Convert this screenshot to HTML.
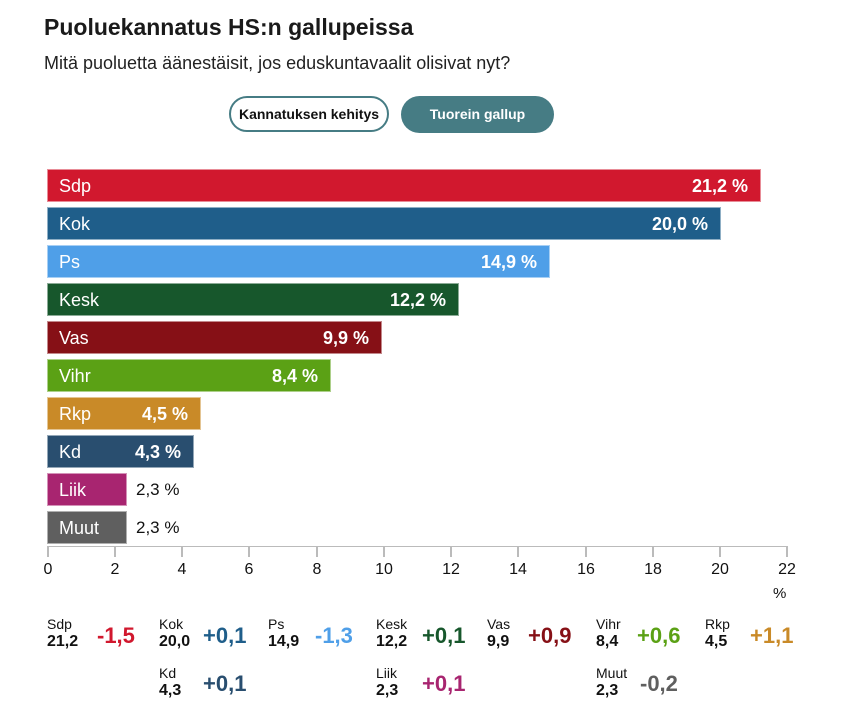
<!DOCTYPE html>
<html><head><meta charset="utf-8"><style>
body{margin:0;width:851px;height:712px;background:#fff;font-family:"Liberation Sans",sans-serif;position:relative;overflow:hidden;color:#111}
.a{position:absolute;white-space:nowrap}
.bar{position:absolute;left:47px;height:33px;color:#fff;font-size:18px;line-height:33px;box-sizing:border-box;border:1px solid rgba(255,255,255,.5)}
.bar .n{position:absolute;left:11px}
.bar .v{position:absolute;right:12px;font-weight:bold}
.out{position:absolute;font-size:17px;line-height:33px;color:#111}
.tk{position:absolute;top:547px;width:2px;height:10px;background:#bbb}
.tl{position:absolute;top:561px;font-size:16px;width:40px;text-align:center;color:#111}
.ln{position:absolute;font-size:14px;line-height:16px}
.lv{position:absolute;font-size:16px;font-weight:bold;line-height:18px}
.ld{position:absolute;font-size:22px;font-weight:bold;line-height:24px}
</style></head><body>
<div class="a" style="left:44px;top:14px;font-size:23px;font-weight:bold;color:#1a1a1a">Puoluekannatus HS:n gallupeissa</div>
<div class="a" style="left:44px;top:53px;font-size:18px;color:#222">Mitä puoluetta äänestäisit, jos eduskuntavaalit olisivat nyt?</div>
<div class="a" style="left:229px;top:96px;width:160px;height:36px;box-sizing:border-box;border:2px solid #467c84;border-radius:18px;text-align:center;line-height:32px;font-size:14px;font-weight:bold;color:#111">Kannatuksen kehitys</div>
<div class="a" style="left:401px;top:96px;width:153px;height:37px;background:#467c84;border-radius:19px;text-align:center;line-height:37px;font-size:14px;font-weight:bold;color:#fff">Tuorein gallup</div>

<div class="bar" style="top:169px;width:714px;background:#d1182e"><span class="n">Sdp</span><span class="v">21,2 %</span></div>
<div class="bar" style="top:207px;width:674px;background:#1f5e8a"><span class="n">Kok</span><span class="v">20,0 %</span></div>
<div class="bar" style="top:245px;width:503px;background:#4f9fe8"><span class="n">Ps</span><span class="v">14,9 %</span></div>
<div class="bar" style="top:283px;width:412px;background:#17572c"><span class="n">Kesk</span><span class="v">12,2 %</span></div>
<div class="bar" style="top:321px;width:335px;background:#861016"><span class="n">Vas</span><span class="v">9,9 %</span></div>
<div class="bar" style="top:359px;width:284px;background:#5ba115"><span class="n">Vihr</span><span class="v">8,4 %</span></div>
<div class="bar" style="top:397px;width:154px;background:#c98a28"><span class="n">Rkp</span><span class="v">4,5 %</span></div>
<div class="bar" style="top:435px;width:147px;background:#294e6f"><span class="n">Kd</span><span class="v">4,3 %</span></div>
<div class="bar" style="top:473px;width:80px;background:#a82570"><span class="n">Liik</span></div>
<div class="out" style="left:136px;top:473px">2,3 %</div>
<div class="bar" style="top:511px;width:80px;background:#5f5f5f"><span class="n">Muut</span></div>
<div class="out" style="left:136px;top:511px">2,3 %</div>

<div class="a" style="left:47px;top:546px;width:741px;height:1px;background:#bbb"></div>
<div class="tk" style="left:47px"></div><div class="tl" style="left:28px">0</div>
<div class="tk" style="left:114px"></div><div class="tl" style="left:95px">2</div>
<div class="tk" style="left:181px"></div><div class="tl" style="left:162px">4</div>
<div class="tk" style="left:248px"></div><div class="tl" style="left:229px">6</div>
<div class="tk" style="left:316px"></div><div class="tl" style="left:297px">8</div>
<div class="tk" style="left:383px"></div><div class="tl" style="left:364px">10</div>
<div class="tk" style="left:450px"></div><div class="tl" style="left:431px">12</div>
<div class="tk" style="left:517px"></div><div class="tl" style="left:498px">14</div>
<div class="tk" style="left:585px"></div><div class="tl" style="left:566px">16</div>
<div class="tk" style="left:652px"></div><div class="tl" style="left:633px">18</div>
<div class="tk" style="left:719px"></div><div class="tl" style="left:700px">20</div>
<div class="tk" style="left:786px"></div><div class="tl" style="left:767px">22</div>
<div class="a" style="left:773px;top:585px;font-size:15px">%</div>

<div class="ln" style="left:47px;top:616px">Sdp</div><div class="lv" style="left:47px;top:633px">21,2</div><div class="ld" style="left:97px;top:624px;color:#d1182e">-1,5</div>
<div class="ln" style="left:159px;top:616px">Kok</div><div class="lv" style="left:159px;top:633px">20,0</div><div class="ld" style="left:203px;top:624px;color:#1f5e8a">+0,1</div>
<div class="ln" style="left:268px;top:616px">Ps</div><div class="lv" style="left:268px;top:633px">14,9</div><div class="ld" style="left:315px;top:624px;color:#4f9fe8">-1,3</div>
<div class="ln" style="left:376px;top:616px">Kesk</div><div class="lv" style="left:376px;top:633px">12,2</div><div class="ld" style="left:422px;top:624px;color:#17572c">+0,1</div>
<div class="ln" style="left:487px;top:616px">Vas</div><div class="lv" style="left:487px;top:633px">9,9</div><div class="ld" style="left:528px;top:624px;color:#861016">+0,9</div>
<div class="ln" style="left:596px;top:616px">Vihr</div><div class="lv" style="left:596px;top:633px">8,4</div><div class="ld" style="left:637px;top:624px;color:#5ba115">+0,6</div>
<div class="ln" style="left:705px;top:616px">Rkp</div><div class="lv" style="left:705px;top:633px">4,5</div><div class="ld" style="left:750px;top:624px;color:#c98a28">+1,1</div>
<div class="ln" style="left:159px;top:665px">Kd</div><div class="lv" style="left:159px;top:682px">4,3</div><div class="ld" style="left:203px;top:672px;color:#294e6f">+0,1</div>
<div class="ln" style="left:376px;top:665px">Liik</div><div class="lv" style="left:376px;top:682px">2,3</div><div class="ld" style="left:422px;top:672px;color:#a82570">+0,1</div>
<div class="ln" style="left:596px;top:665px">Muut</div><div class="lv" style="left:596px;top:682px">2,3</div><div class="ld" style="left:640px;top:672px;color:#5f5f5f">-0,2</div>
</body></html>
